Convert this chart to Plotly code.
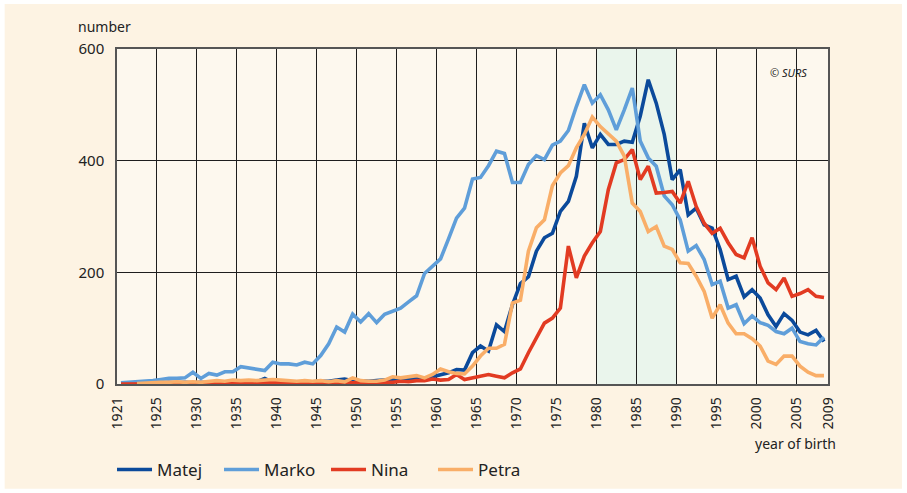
import plotly.graph_objects as go

years = list(range(1921, 2010))

matej = [
    1, 1, 2, 1, 2, 2, 3, 2, 3, 2,
    3, 2, 3, 3, 2, 3, 3, 4, 10, 3,
    3, 4, 3, 4, 4, 5, 5, 7, 9, 6,
    5, 5, 6, 7, 8, 9, 10, 9, 10, 13,
    17, 20, 26, 25, 56, 68, 59, 106, 94, 142,
    180, 192, 238, 262, 270, 309, 327, 372, 467, 423,
    447, 429, 429, 435, 433, 480, 545, 503, 447, 366,
    384, 303, 315, 285, 279, 241, 187, 193, 156, 169,
    154, 124, 103, 126, 114, 93, 88, 96, 76,
]
marko = [
    2, 3, 3, 5, 6, 8, 10, 10, 11, 21,
    10, 19, 16, 22, 22, 31, 29, 27, 24, 39,
    36, 36, 34, 39, 36, 51, 72, 102, 93, 125,
    111, 126, 110, 125, 130, 136, 147, 158, 198, 211,
    224, 260, 297, 315, 367, 370, 391, 417, 413, 361,
    361, 393, 409, 402, 428, 435, 454, 497, 536, 503,
    518, 491, 455, 491, 530, 435, 405, 390, 337, 321,
    294, 238, 248, 223, 178, 184, 136, 142, 108, 122,
    110, 105, 94, 90, 100, 76, 72, 70, 84,
]
nina = [
    0, 0, 0, 0, 0, 0, 0, 0, 1, 1,
    1, 1, 1, 2, 1, 2, 2, 1, 2, 2,
    1, 2, 2, 2, 3, 2, 3, 2, 3, 2,
    3, 3, 3, 3, 3, 5, 4, 6, 6, 9,
    7, 8, 17, 8, 11, 15, 17, 14, 11, 20,
    27, 56, 81, 109, 118, 136, 247, 190, 229, 253,
    273, 348, 396, 402, 420, 366, 390, 342, 343, 345,
    324, 363, 318, 288, 270, 279, 253, 232, 226, 262,
    211, 181, 169, 190, 157, 162, 169, 157, 155,
]
petra = [
    None, None, 1, 2, 2, 3, 3, 4, 3, 4,
    3, 5, 6, 5, 7, 6, 7, 6, 7, 8,
    7, 6, 5, 6, 5, 6, 4, 6, 4, 11,
    6, 5, 5, 7, 13, 11, 13, 15, 11, 17,
    27, 22, 19, 18, 32, 50, 64, 64, 71, 145,
    150, 238, 280, 294, 355, 378, 391, 423, 447, 478,
    461, 447, 435, 408, 324, 309, 273, 282, 247, 241,
    217, 216, 193, 166, 118, 142, 109, 90, 90, 81,
    68, 41, 35, 50, 50, 32, 21, 15, 15,
]

series_names = ["Matej", "Marko", "Nina", "Petra"]
series_values = [matej, marko, nina, petra]
series_colors = ["#0b4a9b", "#5f9ed9", "#e23b22", "#f9ae68"]

x_tick_labels = ["1921", "1925", "1930", "1935", "1940", "1945", "1950", "1955",
                 "1960", "1965", "1970", "1975", "1980", "1985", "1990", "1995",
                 "2000", "2005", "2009"]
y_tick_values = [0, 200, 400, 600]
band_years = [1980, 1990]

FONT = "Noto Sans"

fig = go.Figure()
for name, vals, col in zip(series_names, series_values, series_colors):
    fig.add_trace(go.Scatter(
        x=years, y=vals, name=name, mode="lines",
        line=dict(color=col, width=3.6), connectgaps=False,
    ))

# tick positions at category boundaries (first label sits on the left edge)
x_tick_vals = [1920.5 if t == x_tick_labels[0] else int(t) + 0.5 for t in x_tick_labels]

shapes = [
    dict(type="rect", xref="paper", yref="paper", x0=-0.158, x1=1.104, y0=-0.313, y1=1.134,
         fillcolor="#fdf3e3", line=dict(width=0), layer="below"),
    dict(type="rect", xref="paper", yref="paper", x0=0, x1=1, y0=0, y1=1,
         fillcolor="#fdf8ee", line=dict(width=0), layer="below"),
    dict(type="rect", xref="x", yref="paper", x0=band_years[0] + 0.5, x1=band_years[1] + 0.5,
         y0=0, y1=1, fillcolor="#eaf5ec", line=dict(width=0), layer="below"),
]

fig.update_layout(
    width=907, height=493,
    margin=dict(l=117, r=79, t=49, b=109, autoexpand=False),
    paper_bgcolor="#ffffff",
    plot_bgcolor="#fdf8ee",
    font=dict(family=FONT, color="#222222", size=14),
    shapes=shapes,
    showlegend=True,
    legend=dict(
        orientation="h", xref="container", yref="container",
        x=0.1235, xanchor="left", y=0.0467, yanchor="middle",
        font=dict(size=17, color="#222222"), bgcolor="rgba(0,0,0,0)",
        entrywidth=57, entrywidthmode="pixels", itemwidth=35,
    ),
    xaxis=dict(
        range=[1920.5, 2009.5], tickmode="array", tickvals=x_tick_vals, ticktext=x_tick_labels,
        tickangle=-90, showgrid=True, gridcolor="#1e1e1e", gridwidth=1,
        showline=True, linecolor="#555555", linewidth=1.5, mirror=True,
        ticks="", zeroline=False, tickfont=dict(size=14, color="#222222"),
        ticklabelstandoff=6, automargin=False,
    ),
    yaxis=dict(
        range=[0, 600], tickmode="array", tickvals=y_tick_values,
        showgrid=True, gridcolor="#1e1e1e", gridwidth=1,
        showline=True, linecolor="#555555", linewidth=1.5, mirror=True,
        ticks="", zeroline=False, tickfont=dict(size=15, color="#222222"),
        ticklabelstandoff=8, automargin=False,
    ),
    annotations=[
        dict(text="number", xref="paper", yref="paper", x=-0.018, y=1.066,
             showarrow=False, xanchor="center", yanchor="middle",
             font=dict(size=14, color="#222222")),
        dict(text="year of birth", xref="paper", yref="paper", x=0.954, y=-0.179,
             showarrow=False, xanchor="center", yanchor="middle",
             font=dict(size=14, color="#222222")),
        dict(text="<i>© SURS</i>", xref="paper", yref="paper", x=0.945, y=0.931,
             showarrow=False, xanchor="center", yanchor="middle",
             font=dict(size=11, color="#222222")),
    ],
)

fig.write_html("out.html", config={"displayModeBar": False},
               post_script="document.body.style.margin='0';")
